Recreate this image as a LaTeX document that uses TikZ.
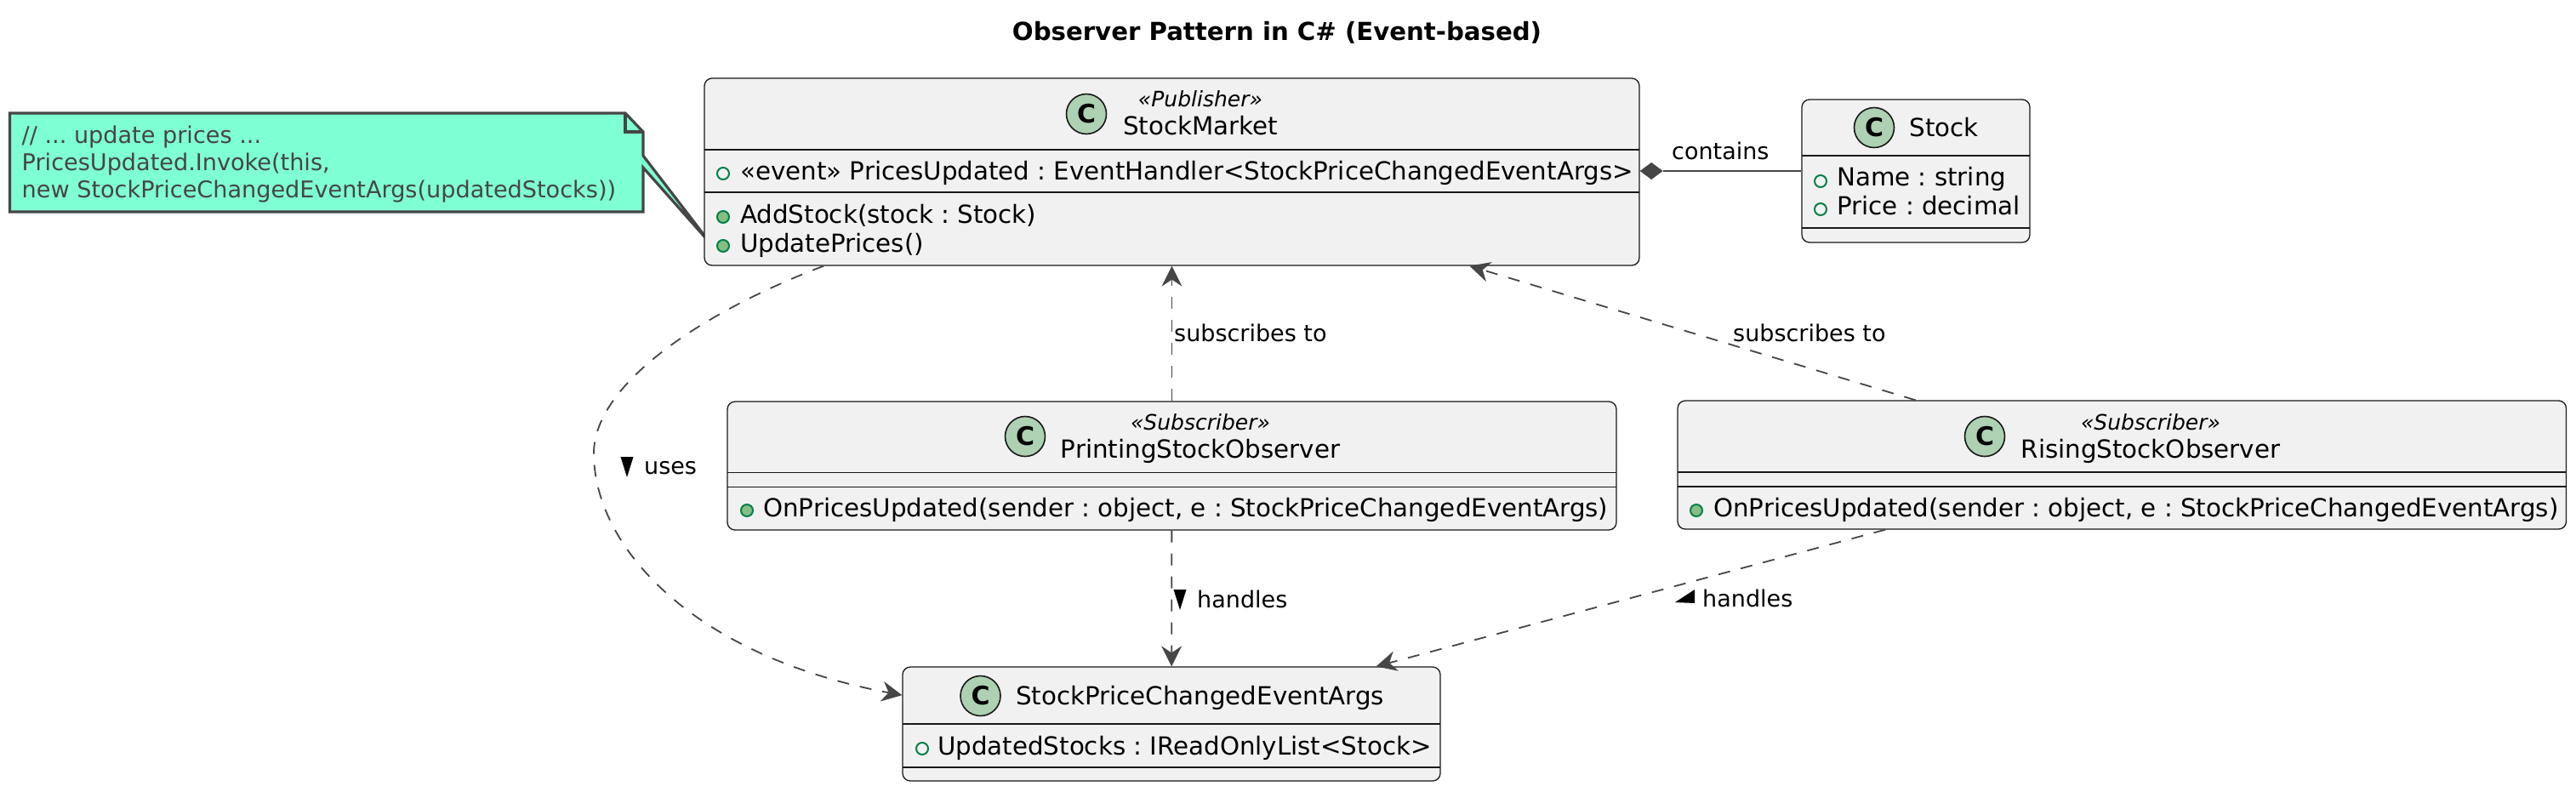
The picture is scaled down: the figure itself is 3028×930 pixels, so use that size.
\documentclass[tikz,border=0pt]{standalone}
\usepackage{fontspec}
\setmainfont{DejaVu Sans}
\frenchspacing
\usetikzlibrary{arrows.meta,calc}
\definecolor{boxfill}{HTML}{F1F1F1}
\definecolor{boxline}{HTML}{181818}
\definecolor{edge}{HTML}{454645}
\definecolor{notefill}{HTML}{7FFFD4}
\definecolor{spot}{HTML}{ADD1B2}
\definecolor{vis}{HTML}{038048}
\definecolor{visfill}{HTML}{84BE84}
\tikzset{
  x=1pt,y=-1pt,
  classbox/.style={draw=boxline,fill=boxfill,line width=1.3pt,rounded corners=9pt,inner sep=0pt},
  sep/.style={draw=boxline,line width=1.3pt},
  spotc/.style={circle,draw=boxline,fill=spot,line width=1.6pt,minimum size=47pt,inner sep=0pt,font=\fontsize{30}{30}\selectfont\bfseries},
  openvis/.style={circle,draw=vis,line width=2pt,minimum size=14pt,inner sep=0pt},
  fillvis/.style={openvis,fill=visfill},
  nm/.style={anchor=base,inner sep=0pt,font=\fontsize{29.3}{29.3}\selectfont},
  mem/.style={anchor=base west,inner sep=0pt,font=\fontsize{29.3}{29.3}\selectfont},
  stereo/.style={anchor=base,inner sep=0pt,font=\fontsize{25}{25}\selectfont\itshape},
  lab/.style={anchor=base west,inner sep=0pt,font=\fontsize{27}{27}\selectfont},
  notetxt/.style={anchor=base west,inner sep=0pt,text=edge,font=\fontsize{27.1}{27.1}\selectfont},
  rel/.style={draw=edge,line width=1.8pt,dash pattern=on 14pt off 13pt,-{Stealth[length=24pt,width=24pt,inset=8pt,color=edge,line width=0pt]}},
  dirtri/.style={fill=black,draw=none},
}
\begin{document}
\begin{tikzpicture}
\useasboundingbox (0,0) rectangle (3028,930);
\node[inner sep=0pt,anchor=base,font=\fontsize{29.2}{29.2}\selectfont\bfseries] (title) at (1501,47) {Observer Pattern in C\# (Event-based)};

% note
\coordinate (tip) at (835,286);
\draw[edge,fill=notefill,line width=3.2pt,line join=miter] (11.5,133) -- (735,133) -- (756,155) -- (756,183) -- (tip) -- (756,197) -- (756,249) -- (11.5,249) -- cycle;
\draw[edge,line width=3.2pt] (735,133) -- (735,155) -- (756,155);
\node[notetxt] (n1) at (25.5,168) {// ... update prices ...};
\node[notetxt] (n2) at (25.5,200) {PricesUpdated.Invoke(this,};
\node[notetxt] (n3) at (25.5,232) {new StockPriceChangedEventArgs(updatedStocks))};

% StockMarket
\node[classbox,minimum width=1099pt,minimum height=220pt] (sm) at (1377.5,202) {};
\draw[sep] (828,176) -- (1927,176) (828,226) -- (1927,226);
\node[spotc] (smc) at (1277,134) {C};
\node[stereo] (sms) at (1411,125) {«Publisher»};
\node[nm] (smn) at (1411,158) {StockMarket};
\node[openvis] (smv1) at (850,204) {};
\node[mem] (smf1) at (870,211) {«event» PricesUpdated : EventHandler<StockPriceChangedEventArgs>};
\node[fillvis] (smv2) at (850,255) {};
\node[mem] (smm1) at (870,262) {AddStock(stock : Stock)};
\node[fillvis] (smv3) at (850,289) {};
\node[mem] (smm2) at (870,296) {UpdatePrices()};

% Stock
\node[classbox,minimum width=268pt,minimum height=168pt] (st) at (2252,201) {};
\draw[sep] (2118,183) -- (2386,183) (2118,268) -- (2386,268);
\node[spotc] (stc) at (2203,150) {C};
\node[nm] (stn) at (2285,160) {Stock};
\node[openvis] (stv1) at (2140,213) {};
\node[mem] (stf1) at (2159,218) {Name : string};
\node[openvis] (stv2) at (2140,246) {};
\node[mem] (stf2) at (2159,252) {Price : decimal};

% PrintingStockObserver
\node[classbox,minimum width=1045pt,minimum height=151pt] (ps) at (1377.5,547.5) {};
\draw[sep] (855,555.5) -- (1900,555.5) (855,572.5) -- (1900,572.5);
\node[spotc] (psc) at (1205,513) {C};
\node[stereo] (pss) at (1411,505) {«Subscriber»};
\node[nm] (psn) at (1411,538) {PrintingStockObserver};
\node[fillvis] (psv) at (878,600) {};
\node[mem] (psm) at (897,607) {OnPricesUpdated(sender : object, e : StockPriceChangedEventArgs)};

% RisingStockObserver
\node[classbox,minimum width=1044.5pt,minimum height=151pt] (rs) at (2494.25,546.5) {};
\draw[sep] (1972,555) -- (3016.5,555) (1972,572) -- (3016.5,572);
\node[spotc] (rsc) at (2333,513) {C};
\node[stereo] (rss) at (2528,505) {«Subscriber»};
\node[nm] (rsn) at (2528,538) {RisingStockObserver};
\node[fillvis] (rsv) at (1994,600) {};
\node[mem] (rsm) at (2014,607) {OnPricesUpdated(sender : object, e : StockPriceChangedEventArgs)};

% StockPriceChangedEventArgs
\node[classbox,minimum width=632pt,minimum height=134pt] (ar) at (1377,851) {};
\draw[sep] (1061,851) -- (1693,851) (1061,902) -- (1693,902);
\node[spotc] (arc) at (1152.5,818) {C};
\node[nm] (arn) at (1410.5,828.5) {StockPriceChangedEventArgs};
\node[openvis] (arv) at (1084,880) {};
\node[mem] (arf) at (1102,887) {UpdatedStocks : IReadOnlyList<Stock>};

% connectors
\draw[edge,line width=2.4pt] (sm.east |- 0,201) ++(27,0) coordinate (dia) -- (st.west |- dia);
\fill[edge] (sm.east |- dia) -- ++(13.5,-10) -- (dia) -- ++(-13.5,10) -- cycle;
\draw[rel] (ps) -- (sm);
\draw[rel] (ps) -- (ar);
\draw[rel] ($(rs.north west)!0.268!(rs.north east)$) -- ($(sm.south west)!0.818!(sm.south east)$);
\draw[rel] ($(rs.south west)!0.234!(rs.south east)$) -- ($(ar.north west)!0.88!(ar.north east)$);
\draw[rel] ($(sm.south west)!0.128!(sm.south east)$) .. controls (830,365) and (698,450) .. (698,533)
  .. controls (698,640) and (810,770) .. ($(ar.north west)!0.25!(ar.south west)$);

% labels
\node[lab] (l1) at (1965,187) {contains};
\node[lab] (l2) at (1380,401) {subscribes to};
\node[lab] (l3) at (2037,401) {subscribes to};
\node[lab] (l4) at (757,557) {uses};
\node[lab] (l5) at (1407,714) {handles};
\node[lab] (l6) at (2001,713) {handles};
\fill[dirtri] (729.5,537) -- (744.5,537) -- (737,561) -- cycle;
\fill[dirtri] (1379.5,693) -- (1394.5,693) -- (1387,717) -- cycle;
\fill[dirtri] (1969,708) -- (1992,693) -- (1992,709) -- cycle;
\end{tikzpicture}
\end{document}
